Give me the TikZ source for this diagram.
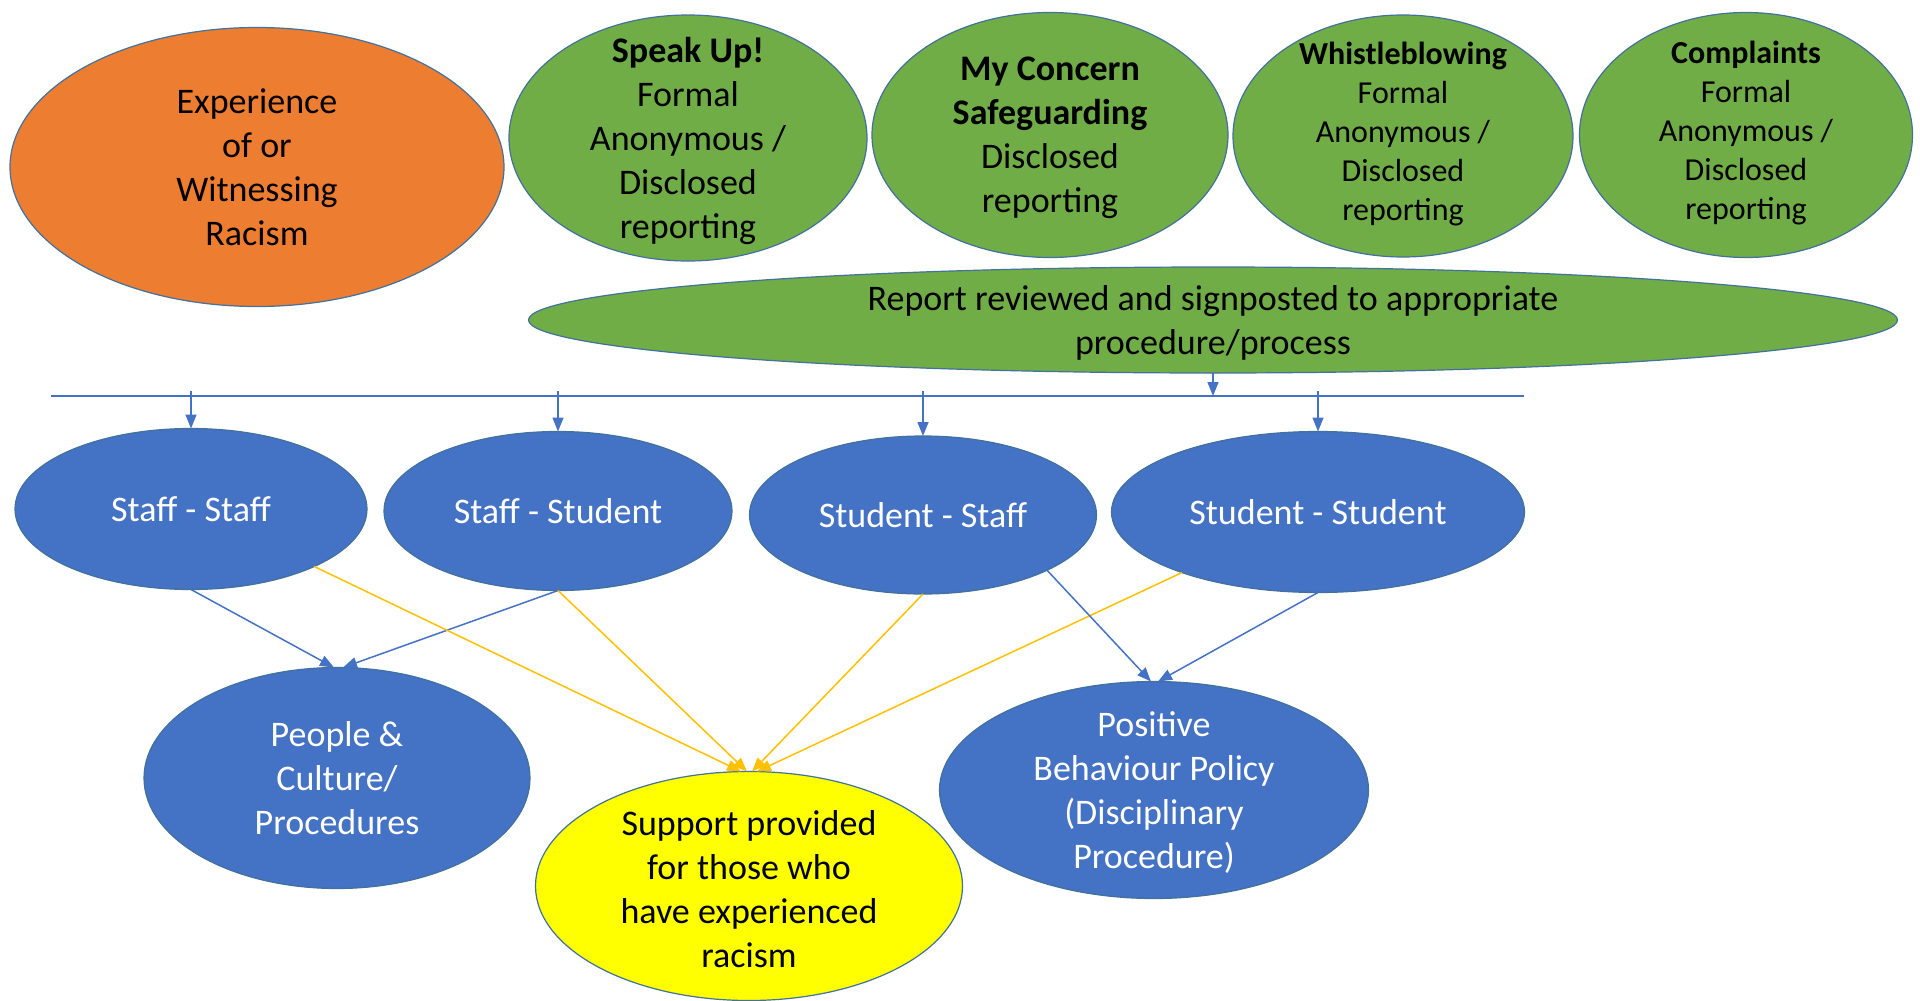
\documentclass[tikz,border=0pt]{standalone}
\usepackage{fontspec}
\setmainfont{Carlito}
\usepackage{tikz}
\usetikzlibrary{positioning,arrows.meta,shapes.geometric}

\definecolor{flame}{HTML}{ED7D31}
\definecolor{grass}{HTML}{70AD47}
\definecolor{sea}{HTML}{4472C4}
\definecolor{rim}{HTML}{41719C}
\definecolor{lemon}{HTML}{FFFF00}
\definecolor{gold}{HTML}{FFC000}

\tikzstyle{bubble}=[ellipse, draw=rim, line width=1.2pt, inner sep=0pt, outer sep=0pt]
\tikzstyle{start}=[style=bubble, fill=flame]
\tikzstyle{route}=[style=bubble, fill=grass]
\tikzstyle{party}=[style=bubble, fill=sea]
\tikzstyle{support}=[style=bubble, fill=lemon]
\tikzstyle{words}=[align=center, font=\fontsize{36}{44}\selectfont]
\tikzstyle{smallwords}=[align=center, font=\fontsize{32}{39}\selectfont]
\tikzstyle{whitewords}=[style=words, text=white]
\tikzstyle{signal}=[-{Triangle[length=14pt,width=11pt]}, draw=sea, line width=1.5pt]
\tikzstyle{care}=[style=signal, draw=gold]

\begin{document}
\begin{tikzpicture}[x=1pt, y=-1pt]
\useasboundingbox (0,0) rectangle (1920,1001);

% top row
\node[start, minimum width=494pt, minimum height=279pt] (racism) at (257,167) {};
\node[words] (racism-t) at (racism) {Experience\\of or\\Witnessing\\Racism};

\node[route, minimum width=358pt, minimum height=246pt] (speak) at (688,138) {};
\node[words] (speak-t) at ([yshift=-3pt]speak.center) {\textbf{Speak Up!}\\Formal\\Anonymous /\\Disclosed\\reporting};

\node[route, minimum width=356pt, minimum height=245pt] (concern) at (1050,135) {};
\node[words] (concern-t) at ([yshift=-3pt]concern.center) {\textbf{My Concern}\\\textbf{Safeguarding}\\Disclosed\\reporting};

\node[route, minimum width=340pt, minimum height=242pt] (whistle) at (1403,136) {};
\node[smallwords] (whistle-t) at ([yshift=2pt]whistle.center) {\textbf{Whistleblowing}\\Formal\\Anonymous /\\Disclosed\\reporting};

\node[route, minimum width=333pt, minimum height=245pt] (complaint) at (1746,135) {};
\node[smallwords] (complaint-t) at ([yshift=2pt]complaint.center) {\textbf{Complaints}\\Formal\\Anonymous /\\Disclosed\\reporting};

\node[route, minimum width=1369pt, minimum height=106pt] (review) at (1213,320) {};
\node[words] (review-t) at ([yshift=-3pt]review.center) {Report reviewed and signposted to appropriate\\procedure/process};

% split line
\coordinate (busL) at (51,396);
\coordinate (busR) at (1524,396);
\draw[draw=sea, line width=1.5pt] (busL) -- (busR);
\draw[signal] (review.south) -- (review.south |- busL);

% who is involved
\node[party, minimum width=352pt, minimum height=161pt] (ss) at (191,509) {};
\node[whitewords] (ss-t) at (ss) {Staff - Staff};
\node[party, minimum width=348pt, minimum height=159pt] (st) at (558,511) {};
\node[whitewords] (st-t) at (st) {Staff - Student};
\node[party, minimum width=347pt, minimum height=158pt] (ts) at (923,515) {};
\node[whitewords] (ts-t) at (ts) {Student - Staff};
\node[party, minimum width=413pt, minimum height=161pt] (tt) at (1318,512) {};
\node[whitewords] (tt-t) at (tt) {Student - Student};

\foreach \n in {ss,st,ts,tt}
  \draw[signal] ([yshift=5pt]\n.north |- busL) -- (\n.north);

% outcomes
\node[party, minimum width=386pt, minimum height=221pt] (people) at (337,778) {};
\node[whitewords] (people-t) at (people) {People \&\\Culture/\\Procedures};
\node[support, minimum width=427pt, minimum height=229pt] (help) at (749,886) {};
\node[words] (help-t) at ([yshift=-3pt]help.center) {Support provided\\for those who\\have experienced\\racism};
\node[party, minimum width=429pt, minimum height=217pt] (policy) at (1154,790) {};
\node[whitewords] (policy-t) at ([yshift=-3pt]policy.center) {Positive\\Behaviour Policy\\(Disciplinary\\Procedure)};

\draw[signal] (ss.south) -- ([xshift=-3pt]people.north);
\draw[signal] (st.south) -- ([xshift=6pt]people.north);
\draw[care] (ss.-25) -- ([xshift=-8pt]help.north);
\draw[care] (st.south) -- ([xshift=-2pt]help.north);
\draw[care] (ts.south) -- ([xshift=3pt]help.north);
\draw[care] (tt.-156) -- ([xshift=8pt]help.north);
\draw[signal] (ts.-24) -- ([xshift=-3pt]policy.north);
\draw[signal] (tt.south) -- ([xshift=4pt]policy.north);
\end{tikzpicture}
\end{document}
